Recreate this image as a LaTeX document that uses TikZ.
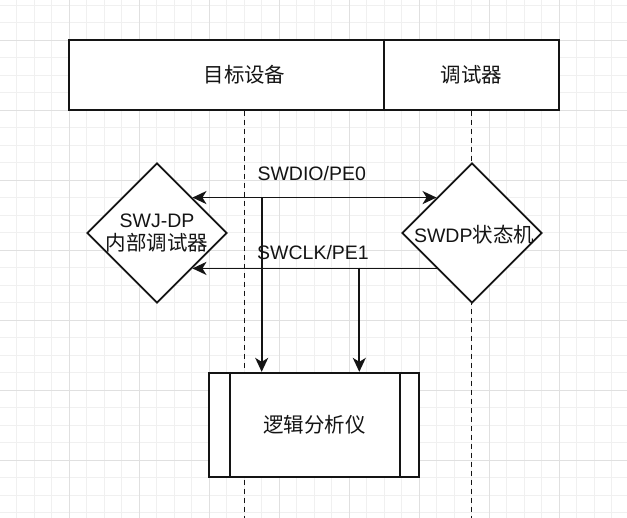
\documentclass[tikz,border=0pt]{standalone}
\usepackage{fontspec}
\setmainfont{Liberation Sans}
\newfontfamily\cjk[Scale=1.05]{Noto Sans CJK SC}
\usetikzlibrary{shapes.geometric,arrows.meta,calc}
\definecolor{gridminor}{RGB}{240,240,240}
\definecolor{gridmajor}{RGB}{224,224,224}
\definecolor{ink}{RGB}{20,20,20}
\tikzset{
  minorline/.style={draw=gridminor,line width=1pt},
  majorline/.style={draw=gridmajor,line width=1pt},
  box/.style={draw=ink,fill=white,line width=1.7pt,rectangle,inner sep=0pt},
  dia/.style={draw=ink,fill=white,line width=1.7pt,diamond,aspect=1,inner sep=0pt,minimum width=140pt,minimum height=140pt},
  life/.style={draw=ink,line width=1.7pt,dash pattern=on 5.5pt off 3.5pt},
  conn/.style={draw=ink,line width=1.7pt},
  tip/.style={-{Stealth[length=14pt,width=13pt,inset=4pt]}},
  txt/.style={font=\fontsize{19.5}{23.5}\selectfont,text=ink,inner sep=0pt,align=center},
}
\begin{document}
\begin{tikzpicture}[x=1pt,y=-1pt]
\useasboundingbox (0,0) rectangle (627,518);
\fill[white] (0,0) rectangle (627,518);
% grid
\foreach \i in {-3,...,31} \draw[minorline] ({69.3+17.5*\i},0) -- ({69.3+17.5*\i},518);
\foreach \i in {-2,...,27} \draw[minorline] (0,{40.3+17.5*\i}) -- (627,{40.3+17.5*\i});
\foreach \i in {0,...,7} \draw[majorline] ({69.3+70*\i},0) -- ({69.3+70*\i},518);
\foreach \i in {0,...,6} \draw[majorline] (0,{40.3+70*\i}) -- (627,{40.3+70*\i});
% header lanes
\node[box,minimum width=351pt,minimum height=70pt] (H1) at (244.5,75) {};
\node[box,minimum width=175pt,minimum height=70pt] (H2) at (471.5,75) {};
\node[txt] (H1t) at (H1.center) {\cjk 目标设备};
\node[txt] (H2t) at (H2.center) {\cjk 调试器};
% lifelines
\coordinate (bottom) at (0,518);
\draw[life] (H1.south) -- (H1.south |- bottom);
\draw[life] (H2.south) -- (H2.south |- bottom);
% shapes
\node[dia] (L) at (157,233) {};
\node[dia] (R) at (472,233) {};
\node[box,minimum width=210pt,minimum height=104.6pt] (A) at (314.3,425) {};
\draw[conn] ($(A.north west)+(21.4,0)$) -- ($(A.south west)+(21.4,0)$);
\draw[conn] ($(A.north east)+(-20.3,0)$) -- ($(A.south east)+(-20.3,0)$);
% texts in shapes
\node[txt] (Lt) at (L.center) {SWJ-DP\\{\cjk 内部调试器}};
\node[txt] (Rt) at ($(R.center)+(2,2)$) {SWDP{\cjk 状态机}};
\node[txt] (At) at (A.center) {\cjk 逻辑分析仪};
% connectors
\coordinate (Lne) at ($(L.north)!0.5!(L.east)$);
\coordinate (Lse) at ($(L.south)!0.5!(L.east)$);
\coordinate (Rnw) at ($(R.north)!0.5!(R.west)$);
\coordinate (Rsw) at ($(R.south)!0.5!(R.west)$);
\draw[conn,{Stealth[length=14pt,width=13pt,inset=4pt]}-{Stealth[length=14pt,width=13pt,inset=4pt]}] (Lne) -- (Rnw);
\draw[conn,tip] (Rsw) -- (Lse);
\coordinate (c1) at (261.7,197.7);
\coordinate (c2) at (359.3,267.7);
\draw[conn,tip] (c1) -- (c1 |- A.north);
\draw[conn,tip] (c2) -- (c2 |- A.north);
% labels
\node[txt] (l1) at (311.7,174) {SWDIO/PE0};
\node[txt] (l2) at (313,252.5) {SWCLK/PE1};
\end{tikzpicture}
\end{document}
